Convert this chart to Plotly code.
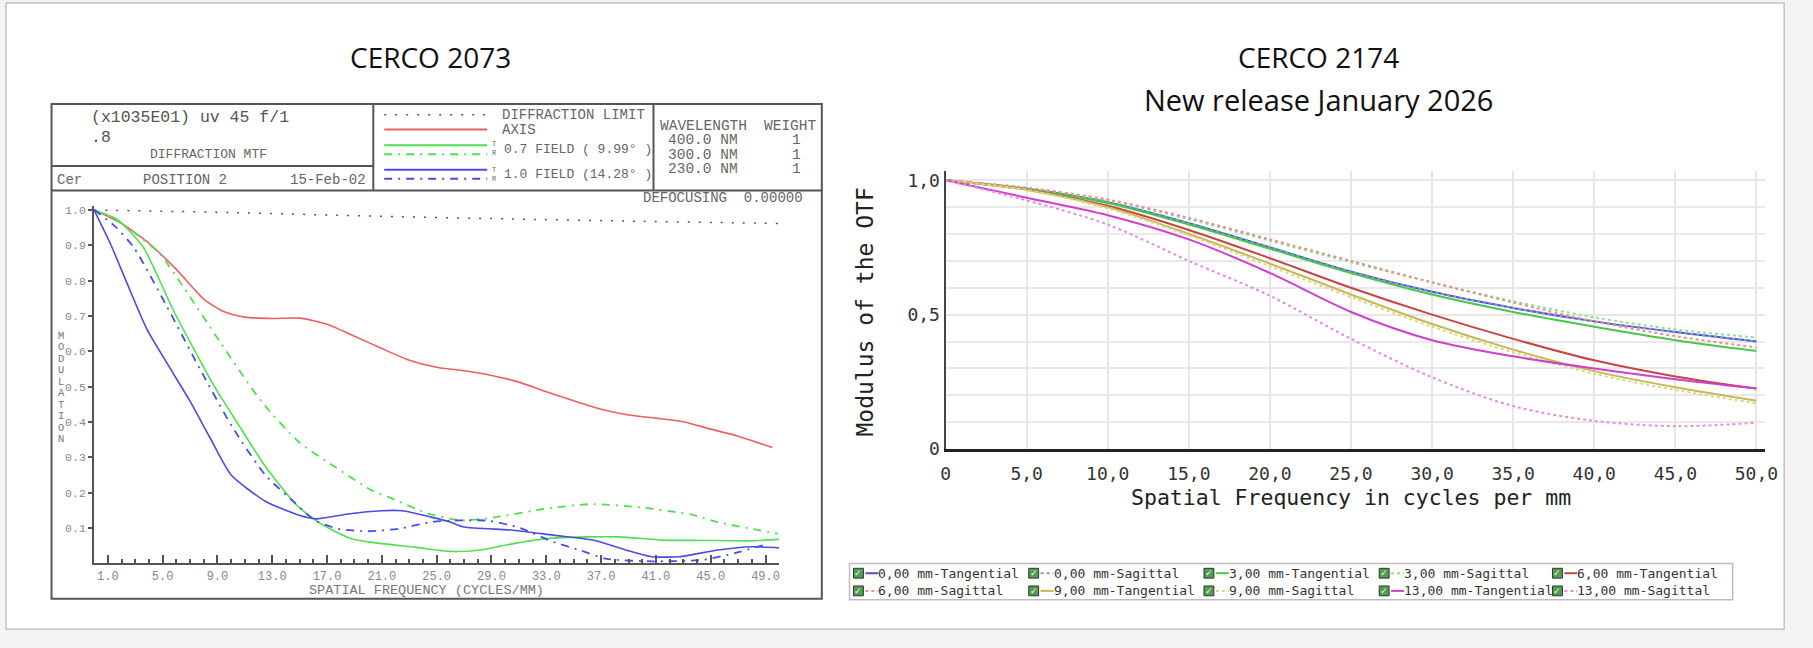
import plotly.graph_objects as go

W, H = 1813, 648
MONO = "Liberation Mono"
MONO2 = "DejaVu Sans Mono"
SANS = "Open Sans"

# ---------------- left chart: CERCO 2073 (diffraction MTF) ----------------
diff_x = [0, 10, 20, 30, 40, 50]
diff_y = [1.0, 0.993, 0.983, 0.975, 0.968, 0.962]

axis_x = [0, 2, 4, 6, 8, 9.5, 11, 13, 15, 17, 19, 21, 23, 25, 27, 29, 31, 33, 35,
          37, 39, 41, 43, 45, 47, 49.5]
axis_y = [1.0, 0.962, 0.906, 0.832, 0.748, 0.712, 0.697, 0.693, 0.694, 0.677, 0.643,
          0.608, 0.575, 0.555, 0.545, 0.532, 0.513, 0.486, 0.46, 0.436, 0.42, 0.411,
          0.401, 0.38, 0.36, 0.328]

f07t_x = [0, 1.7, 3.6, 5.8, 8.7, 10.5, 12.5, 14.7, 16.2, 17.4, 18.8, 21, 23.4, 26,
          28.2, 30.6, 33, 35.9, 38.3, 41.5, 44.4, 48, 50]
f07t_y = [1.0, 0.973, 0.894, 0.715, 0.506, 0.395, 0.274, 0.168, 0.121, 0.094, 0.07,
          0.056, 0.046, 0.034, 0.038, 0.056, 0.07, 0.075, 0.075, 0.066, 0.065, 0.064, 0.068]

f07r_x = [0, 2, 4.8, 6.5, 9.2, 12.2, 14.9, 17.5, 20.2, 21.9, 24.3, 26.75, 29.2, 32.8,
          36.4, 40, 43.6, 45.5, 49.9]
f07r_y = [1.0, 0.962, 0.876, 0.783, 0.626, 0.459, 0.345, 0.275, 0.208, 0.181, 0.142,
          0.122, 0.13, 0.154, 0.168, 0.158, 0.138, 0.117, 0.084]

f10t_x = [0, 1.2, 2.4, 3.85, 5.55, 7, 8.44, 10, 12.5, 14.9, 16.2, 18.55, 21, 22.5, 24.6,
          26, 27, 30.6, 33.5, 36.4, 38.8, 40.7, 42.7, 45.55, 48, 50]
f10t_y = [1.0, 0.904, 0.793, 0.663, 0.552, 0.459, 0.357, 0.25, 0.176, 0.137, 0.126, 0.14,
          0.149, 0.149, 0.131, 0.117, 0.103, 0.094, 0.08, 0.066, 0.038, 0.019, 0.019,
          0.038, 0.047, 0.044]

f10r_x = [0, 1.5, 2.9, 5.3, 7.7, 10.1, 12.5, 14.7, 16.15, 17.8, 20, 22.2, 24.6, 26, 28.7,
          31.1, 33.5, 35.4, 37.4, 40.7, 44.4, 46.75, 49.2]
f10r_y = [1.0, 0.955, 0.894, 0.728, 0.552, 0.385, 0.25, 0.17, 0.121, 0.098, 0.091, 0.098,
          0.117, 0.121, 0.121, 0.1, 0.061, 0.038, 0.013, 0.006, 0.01, 0.029, 0.056]

left_xticks = list(range(1, 50, 4))
left_xlabels = [f"{v}.0" for v in left_xticks]
left_yticks = [i / 10 for i in range(1, 11)]
left_ylabels = [f"{v:.1f}" for v in left_yticks]

wavelengths = ["400.0 NM", "300.0 NM", "230.0 NM"]
weights = ["1", "1", "1"]

# ---------------- right chart: CERCO 2174 (OTF modulus) ----------------
freq = [0, 5, 10, 15, 20, 25, 30, 35, 40, 45, 50]
t000 = [1.0, 0.968, 0.918, 0.84, 0.75, 0.66, 0.585, 0.525, 0.475, 0.435, 0.40]
s000 = [1.0, 0.968, 0.918, 0.84, 0.75, 0.66, 0.585, 0.525, 0.475, 0.435, 0.40]
t300 = [1.0, 0.967, 0.915, 0.835, 0.745, 0.655, 0.575, 0.51, 0.455, 0.405, 0.365]
s300 = [1.0, 0.972, 0.925, 0.855, 0.775, 0.695, 0.62, 0.55, 0.49, 0.445, 0.415]
t600 = [1.0, 0.965, 0.905, 0.815, 0.71, 0.60, 0.50, 0.41, 0.33, 0.27, 0.225]
s600 = [1.0, 0.972, 0.928, 0.86, 0.78, 0.70, 0.62, 0.545, 0.475, 0.42, 0.378]
t900 = [1.0, 0.964, 0.90, 0.80, 0.69, 0.575, 0.465, 0.37, 0.29, 0.23, 0.18]
s900 = [1.0, 0.963, 0.895, 0.795, 0.68, 0.565, 0.455, 0.36, 0.28, 0.22, 0.17]
t1300 = [1.0, 0.935, 0.87, 0.78, 0.655, 0.51, 0.405, 0.345, 0.30, 0.26, 0.225]
s1300 = [1.0, 0.925, 0.835, 0.70, 0.57, 0.41, 0.267, 0.16, 0.105, 0.085, 0.098]

right_names = ["0,00 mm-Tangential", "0,00 mm-Sagittal", "3,00 mm-Tangential",
               "3,00 mm-Sagittal", "6,00 mm-Tangential", "6,00 mm-Sagittal",
               "9,00 mm-Tangential", "9,00 mm-Sagittal", "13,00 mm-Tangential",
               "13,00 mm-Sagittal"]
right_values = [t000, s000, t300, s300, t600, s600, t900, s900, t1300, s1300]
right_colors = ["#4b52c4", "#8a95e0", "#46c846", "#8fe08f", "#c84444", "#e69090",
                "#c6b955", "#dcd48a", "#d040cc", "#e48ee0"]

right_xticks = [0, 5, 10, 15, 20, 25, 30, 35, 40, 45, 50]
right_xlabels = ["0"] + [f"{v},0" for v in right_xticks[1:]]


def px(x):
    return x / W


def py(y):
    return 1 - y / H


def txt(x, y, s, size, color="#555", anchor="left", family=MONO, angle=0):
    if anchor == "left":
        x -= 5
    return dict(x=px(x), y=py(y), xref="paper", yref="paper", text=s, showarrow=False,
                xanchor=anchor, yanchor="middle", textangle=angle,
                font=dict(family=family, size=size, color=color))


def seg(x0, y0, x1, y1, color="#555", width=2, dash="solid"):
    return dict(type="line", xref="paper", yref="paper", x0=px(x0), y0=py(y0),
                x1=px(x1), y1=py(y1), line=dict(color=color, width=width, dash=dash))


fig = go.Figure()

DD = "8px,6px,2px,6px"
left_series = [
    (diff_x, diff_y, "#555555", "2px,9px", 1.5),
    (axis_x, axis_y, "#ec5f5f", "solid", 1.6),
    (f07t_x, f07t_y, "#4fe04f", "solid", 1.6),
    (f07r_x, f07r_y, "#4fe04f", DD, 1.8),
    (f10t_x, f10t_y, "#4b4be6", "solid", 1.6),
    (f10r_x, f10r_y, "#4b4be6", DD, 1.8),
]
for xs, ys, col, dash, w in left_series:
    fig.add_trace(go.Scatter(x=xs, y=ys, mode="lines", xaxis="x", yaxis="y",
                             line=dict(color=col, width=w, dash=dash, shape="spline",
                                       smoothing=0.6),
                             showlegend=False, hoverinfo="skip"))

for name, vals, col in zip(right_names, right_values, right_colors):
    dash = "dot" if "Sagittal" in name else "solid"
    fig.add_trace(go.Scatter(x=freq, y=vals, mode="lines", xaxis="x2", yaxis="y2",
                             name=name,
                             line=dict(color=col, width=2, dash=dash, shape="spline",
                                       smoothing=0.9),
                             showlegend=False))

shapes = []
annotations = []

# slide frame
shapes.append(dict(type="rect", xref="paper", yref="paper", x0=px(1), y0=py(639),
                   x1=px(1797), y1=py(1), line=dict(color="#c4c4c4", width=1.5),
                   fillcolor="white", layer="below"))

# titles
annotations.append(txt(430, 56, "CERCO 2073", 28, "#111", "center", SANS))
annotations.append(txt(1327, 56, "CERCO 2174", 28, "#111", "center", SANS))
annotations.append(txt(1327, 99, "New release January 2026", 29, "#111", "center", SANS))

# left frame and header grid
shapes.append(dict(type="rect", xref="paper", yref="paper", x0=px(47), y0=py(608),
                   x1=px(825), y1=py(104), line=dict(color="#555", width=2)))
shapes.append(seg(47, 192, 825, 192))
shapes.append(seg(47, 167, 372, 167))
shapes.append(seg(372, 104, 372, 192))
shapes.append(seg(655, 104, 655, 192))

annotations.append(txt(90, 118, "(x1035E01) uv 45 f/1", 16.5, "#555"))
annotations.append(txt(90, 138, ".8", 16.5, "#555"))
annotations.append(txt(206, 155, "DIFFRACTION MTF", 13, "#666", "center"))
annotations.append(txt(56, 181, "Cer", 14, "#666"))
annotations.append(txt(142, 181, "POSITION 2", 14, "#666"))
annotations.append(txt(367, 181, "15-Feb-02", 14, "#666", "right"))

# left legend (drawn inside header)
shapes.append(seg(383, 115, 487, 115, "#555", 1.5, "2px,9px"))
shapes.append(seg(383, 130, 487, 130, "#ec5f5f", 2))
shapes.append(seg(383, 146, 487, 146, "#4fe04f", 2))
shapes.append(seg(383, 155, 487, 155, "#4fe04f", 2, DD))
shapes.append(seg(383, 171, 487, 171, "#4b4be6", 2))
shapes.append(seg(383, 180, 487, 180, "#4b4be6", 2, DD))
annotations.append(txt(505, 115, "DIFFRACTION LIMIT", 14, "#666"))
annotations.append(txt(505, 130, "AXIS", 14, "#666"))
annotations.append(txt(495, 145, "T", 7, "#666"))
annotations.append(txt(495, 154, "R", 7, "#666"))
annotations.append(txt(507, 150, "0.7 FIELD ( 9.99\u00b0 )", 13, "#666"))
annotations.append(txt(495, 171, "T", 7, "#666"))
annotations.append(txt(495, 180, "R", 7, "#666"))
annotations.append(txt(507, 176, "1.0 FIELD (14.28\u00b0 )", 13, "#666"))

annotations.append(txt(665, 126, "WAVELENGTH", 14.5, "#666"))
annotations.append(txt(822, 126, "WEIGHT", 14.5, "#666", "right"))
for i, (wl, wt) in enumerate(zip(wavelengths, weights)):
    annotations.append(txt(673, 141 + i * 14.5, wl, 14.5, "#666"))
    annotations.append(txt(799, 141 + i * 14.5, wt, 14.5, "#666", "center"))
annotations.append(txt(808, 200, "DEFOCUSING  0.00000", 14, "#666", "right"))

for i, ch in enumerate("MODULATION"):
    annotations.append(txt(57, 340 + i * 11.7, ch, 10.5, "#777", "center"))
annotations.append(txt(426, 600, "SPATIAL FREQUENCY (CYCLES/MM)", 13.5, "#777", "center"))

# right chart axis titles
annotations.append(txt(869, 316, "Modulus of the OTF", 23, "#222", "center", MONO2, -90))
annotations.append(txt(1360, 505, "Spatial Frequency in cycles per mm", 21.5, "#222",
                       "center", MONO2))

# right legend box
shapes.append(dict(type="rect", xref="paper", yref="paper", x0=px(853), y0=py(609),
                   x1=px(1745), y1=py(572), line=dict(color="#bdbdbd", width=1.5),
                   fillcolor="white"))
leg_cols = [857, 1034, 1211, 1388, 1563]
leg_rows = [582, 600]
for k, (name, col) in enumerate(zip(right_names, right_colors)):
    cx = leg_cols[k % 5]
    cy = leg_rows[k // 5]
    shapes.append(dict(type="rect", xref="paper", yref="paper", x0=px(cx), y0=py(cy + 5),
                       x1=px(cx + 10), y1=py(cy - 5), line=dict(color="#333", width=1),
                       fillcolor="#4f9f4f"))
    annotations.append(txt(cx + 5, cy, "\u2713", 9, "#e8ffe8", "center", "DejaVu Sans"))
    dash = "dot" if "Sagittal" in name else "solid"
    shapes.append(seg(cx + 12, cy, cx + 25, cy, col, 2, dash))
    annotations.append(txt(cx + 28, cy, name, 13, "#333", "left", MONO2))

fig.update_layout(
    width=W, height=H,
    margin=dict(l=0, r=0, t=0, b=0),
    paper_bgcolor="#f3f3f3",
    plot_bgcolor="white",
    showlegend=False,
    shapes=shapes,
    annotations=annotations,
    xaxis=dict(domain=[px(90), px(782)], range=[0, 50], anchor="y",
               tickmode="array", tickvals=left_xticks, ticktext=left_xlabels,
               ticks="inside", ticklen=8, tickwidth=1.5, tickcolor="#555",
               minor=dict(tickmode="linear", tick0=0, dtick=1, ticks="inside",
                          ticklen=4, tickcolor="#555", showgrid=False),
               showline=True, linecolor="#555", linewidth=2, showgrid=False,
               zeroline=False, tickfont=dict(family=MONO, size=12, color="#888")),
    yaxis=dict(domain=[py(572), py(208)], range=[0, 1.011], anchor="x",
               tickmode="array", tickvals=left_yticks, ticktext=left_ylabels,
               ticks="outside", ticklen=4, tickwidth=1.5, tickcolor="#555",
               showline=True, linecolor="#555", linewidth=2, showgrid=False,
               zeroline=False, tickfont=dict(family=MONO, size=11.5, color="#888")),
    xaxis2=dict(domain=[px(950), px(1778)], range=[0, 50.55], anchor="y2",
                tickmode="array", tickvals=right_xticks, ticktext=right_xlabels,
                ticks="", ticklabelstandoff=6,
                showline=True, linecolor="#222", linewidth=3,
                showgrid=True, gridcolor="#e6e6e6", gridwidth=1.5, zeroline=False,
                tickfont=dict(family=MONO2, size=18, color="#333")),
    yaxis2=dict(domain=[py(455.5), py(172)], range=[0, 1.035], anchor="x2",
                tickmode="array", tickvals=[0, 0.5, 1.0], ticktext=["0", "0,5", "1,0"],
                ticks="", showline=True, linecolor="#444", linewidth=2,
                showgrid=True, gridcolor="#e6e6e6", gridwidth=1.5, zeroline=False,
                minor=dict(tickmode="linear", tick0=0, dtick=0.1, showgrid=True,
                           gridcolor="#e9e9e9", gridwidth=1.5),
                tickfont=dict(family=MONO2, size=18, color="#333")),
)

fig.write_html("out.html", config={"displayModeBar": False},
               post_script="document.body.style.margin='0px';")
